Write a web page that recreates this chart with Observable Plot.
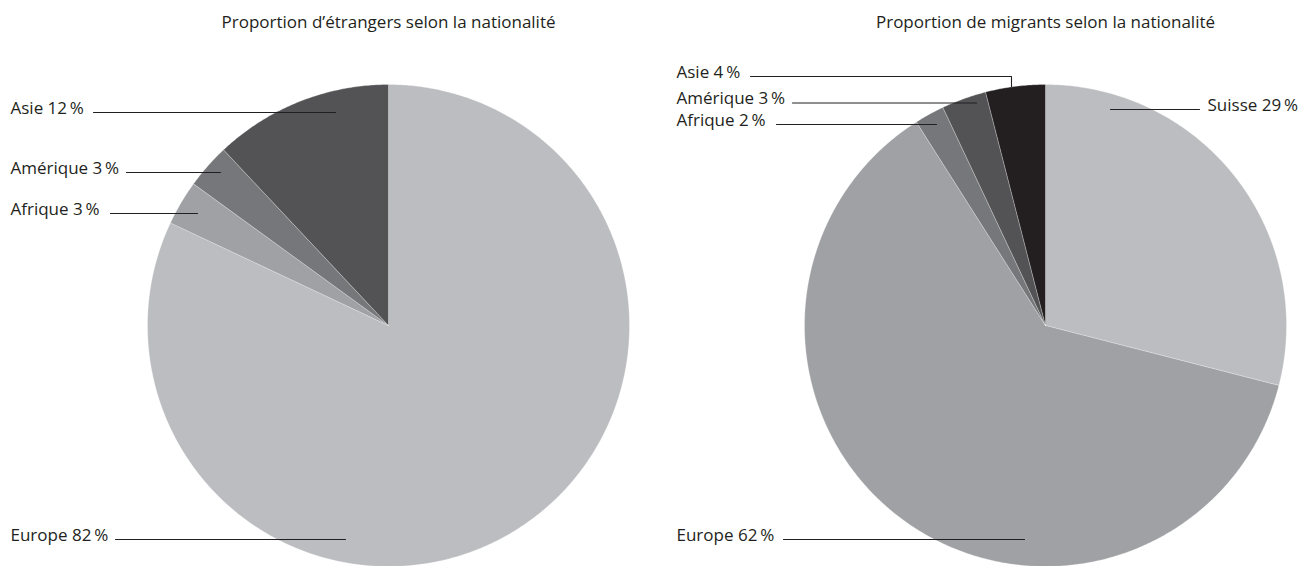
<!DOCTYPE html>
<html>
<head>
<meta charset="utf-8">
<script src="https://cdn.jsdelivr.net/npm/d3@7"></script>
<script src="https://cdn.jsdelivr.net/npm/@observablehq/plot@0.6"></script>
<style>
  html, body { margin: 0; padding: 0; background: #fff; }
  #chart svg { display: block; }
</style>
</head>
<body>
<div id="chart"></div>
<script>
// ---- data ----
const charts = ["étrangers", "migrants"];
const chartTitles = ["Proportion d’étrangers selon la nationalité", "Proportion de migrants selon la nationalité"];
const etrangersCategories = ["Europe", "Afrique", "Amérique", "Asie"];
const etrangersValues = [82, 3, 3, 12];
const migrantsCategories = ["Suisse", "Europe", "Afrique", "Amérique", "Asie"];
const migrantsValues = [29, 62, 2, 3, 4];

// ---- styles ----
const sliceColors = {
  "étrangers": {Europe: "#bcbdc0", Afrique: "#a0a1a4", "Amérique": "#76777a", Asie: "#535355"},
  "migrants": {Suisse: "#bcbdc0", Europe: "#a0a1a4", Afrique: "#76777a", "Amérique": "#535355", Asie: "#231f20"}
};
const FONT = "'Open Sans', sans-serif";
const INK = "#231f20";

// ---- layout (units relative to pie centre; pie radius R) ----
const R = 241;
const titleBaseline = -298;
const labelLayout = [
  {chart: "étrangers", category: "Asie",     tx: -378, ty: -213, path: [[-295, -213], [-53, -213]]},
  {chart: "étrangers", category: "Amérique", tx: -378, ty: -153, path: [[-262, -153], [-168, -153]]},
  {chart: "étrangers", category: "Afrique",  tx: -378, ty: -112, path: [[-278, -112], [-191, -112]]},
  {chart: "étrangers", category: "Europe",   tx: -378, ty: 214,  path: [[-273, 214], [-43, 214]]},
  {chart: "migrants",  category: "Asie",     tx: -369, ty: -249, path: [[-295, -249], [-34, -249], [-34, -239]]},
  {chart: "migrants",  category: "Amérique", tx: -369, ty: -222.5, path: [[-253, -222.5], [-69, -222.5]]},
  {chart: "migrants",  category: "Afrique",  tx: -369, ty: -201, path: [[-269, -201], [-109, -201]]},
  {chart: "migrants",  category: "Suisse",   tx: 162,  ty: -216, path: [[65, -216], [154, -216]]},
  {chart: "migrants",  category: "Europe",   tx: -369, ty: 214,  path: [[-262, 214], [-21, 214]]}
];

// ---- build tables from the arrays ----
const series = {
  "étrangers": etrangersCategories.map((c, i) => ({category: c, value: etrangersValues[i]})),
  "migrants": migrantsCategories.map((c, i) => ({category: c, value: migrantsValues[i]}))
};

// slice polygons (clockwise from 12 o'clock)
const slicePoints = [];
for (const chart of charts) {
  const rows = series[chart];
  const total = d3.sum(rows, d => d.value);
  let acc = 0;
  for (const r of rows) {
    const a0 = acc / total * 2 * Math.PI;
    acc += r.value;
    const a1 = acc / total * 2 * Math.PI;
    const key = chart + "|" + r.category;
    const color = sliceColors[chart][r.category];
    slicePoints.push({chart, key, color, x: 0, y: 0});
    const n = Math.max(2, Math.ceil((a1 - a0) / (Math.PI / 360)));
    for (let k = 0; k <= n; ++k) {
      const a = a0 + (a1 - a0) * k / n;
      slicePoints.push({chart, key, color, x: R * Math.sin(a), y: -R * Math.cos(a)});
    }
    slicePoints.push({chart, key, color, x: 0, y: 0});
  }
}

const valueOf = (chart, category) => series[chart].find(d => d.category === category).value;
const labels = labelLayout.map(l => ({...l, text: `${l.category} ${valueOf(l.chart, l.category)}\u2009%`}));
const leaderPoints = labelLayout.flatMap((l, i) => l.path.map(([x, y]) => ({chart: l.chart, key: i, x, y})));
const titles = charts.map((c, i) => ({chart: c, title: chartTitles[i]}));

const plot = Plot.plot({
  width: 1314,
  height: 566,
  margin: 0,
  style: {fontFamily: FONT, background: "#fff", color: INK},
  fx: {domain: charts, padding: 0, axis: null},
  x: {domain: [-388, 269], axis: null},
  y: {domain: [-325, 241], reverse: true, axis: null},
  color: {type: "identity"},
  marks: [
    Plot.line(slicePoints, {fx: "chart", x: "x", y: "y", z: "key", fill: "color", stroke: "#ffffff", strokeOpacity: 0.45, strokeWidth: 0.6, curve: "linear"}),
    Plot.line(leaderPoints, {fx: "chart", x: "x", y: "y", z: "key", stroke: INK, strokeWidth: 1.1, curve: "linear"}),
    Plot.text(labels, {fx: "chart", x: "tx", y: "ty", text: "text", textAnchor: "start", lineAnchor: "bottom", dy: 1, fontSize: 17, fill: INK}),
    Plot.text(titles, {fx: "chart", x: 0, y: titleBaseline, text: "title", textAnchor: "middle", lineAnchor: "bottom", fontSize: 17, fill: INK})
  ]
});
document.getElementById("chart").appendChild(plot);
</script>
</body>
</html>
